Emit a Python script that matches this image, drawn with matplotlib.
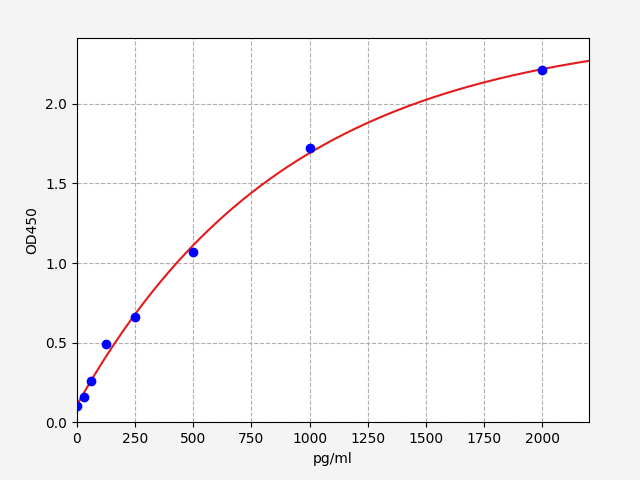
import numpy as np
import matplotlib
matplotlib.use("Agg")
import matplotlib.pyplot as plt

# standard points
conc = [0, 31.25, 62.5, 125, 250, 500, 1000, 2000]
od = [0.10, 0.16, 0.26, 0.49, 0.66, 1.07, 1.72, 2.21]

x = np.array(conc)
y = np.array(od)


# fit y = a - b*exp(-x/c): scan c, solve a, b by least squares
def fit_curve(x, y):
    best = None
    for c in np.linspace(200, 5000, 2000):
        A = np.column_stack([np.ones_like(x), -np.exp(-x / c)])
        coef, res, _, _ = np.linalg.lstsq(A, y, rcond=None)
        err = np.sum((A @ coef - y) ** 2)
        if best is None or err < best[0]:
            best = (err, coef[0], coef[1], c)
    return best[1:]


a, b, c = fit_curve(x, y)
xs = np.linspace(0, 2200, 400)
ys = a - b * np.exp(-xs / c)

fig, ax = plt.subplots(figsize=(6.4, 4.8), dpi=100)
fig.subplots_adjust(left=0.12, right=0.92, top=0.92, bottom=0.12)
fig.patch.set_facecolor('#f4f4f4')
ax.plot(xs, ys, color='#e41a1c', lw=1.5, zorder=2)
ax.plot(x, y, 'o', color='blue', ms=6, zorder=3)
ax.set_xlim(0, 2200)
ax.set_ylim(0, 2.41)
ax.grid(True, ls='--', color='#b0b0b0')
ax.set_xlabel('pg/ml')
ax.set_ylabel('OD450')
fig.savefig('out.png')
